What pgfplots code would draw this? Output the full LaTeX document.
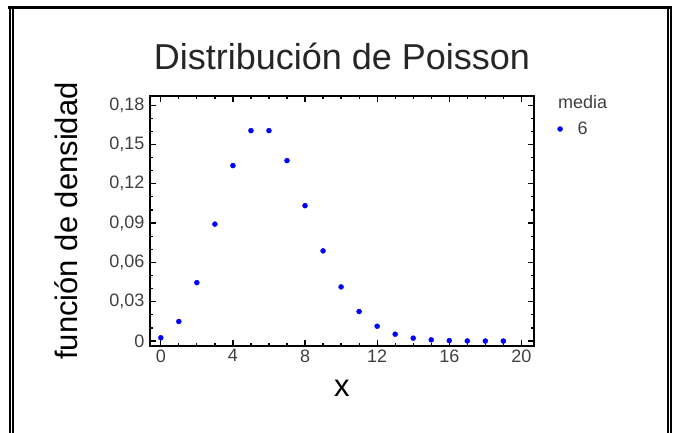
\documentclass[border=0pt]{standalone}
\usepackage{pgfplots}
\pgfplotsset{compat=1.18}
\usepackage{fontspec}
\setmainfont{Liberation Sans}
\definecolor{tickgray}{RGB}{64,64,64}
\begin{document}
\begin{tikzpicture}[x=1pt,y=1pt]
% el eje queda con su esquina en (0,0); el marco se desplaza
\begin{scope}[shift={(-150,-86)}]
\useasboundingbox (0,0) rectangle (673,432);
\clip (0,0) rectangle (673,432);
\draw[line width=3pt] (8,424.5) -- (671,424.5);
\draw[line width=2pt] (10,-5) -- (10,426);
\draw[line width=2pt] (13,-5) -- (13,423);
\draw[line width=2pt] (668,-5) -- (668,423);
\draw[line width=2pt] (671,-5) -- (671,426);
\node[anchor=base west, font=\fontsize{18}{18}\selectfont, text=tickgray, inner sep=0pt] at (558,323) {media};
\end{scope}
\begin{axis}[
  scale only axis, width=384pt, height=250pt,
  xmin=-0.6, xmax=20.7, ymin=-0.0038, ymax=0.187,
  axis line style={line width=1.6pt},
  xtick={0,4,...,20}, minor x tick num=3,
  ytick={0,0.03,...,0.18}, minor y tick num=2,
  yticklabels={0,{0,03},{0,06},{0,09},{0,12},{0,15},{0,18}},
  tick align=inside, major tick length=6pt, minor tick length=3pt,
  every tick/.style={black, line width=1.2pt},
  tick label style={font=\fontsize{18}{18}\selectfont, text=tickgray},
  yticklabel style={xshift=-2pt},
  /pgf/number format/assume math mode=true,
  title={Distribución de Poisson},
  title style={font=\fontsize{36}{36}\selectfont, text=black!85,
    at={(axis description cs:0.5,1.136)}, anchor=center},
  xlabel={x}, ylabel={función de densidad},
  label style={font=\fontsize{31}{31}\selectfont},
  xlabel style={at={(axis description cs:0.5,-0.168)}, anchor=center},
  ylabel style={at={(axis description cs:-0.219,0.5)}, anchor=center},
  legend style={at={(axis description cs:1.061,0.868)}, anchor=west,
    draw=none, fill=none, inner sep=0pt,
    font=\fontsize{18}{18}\selectfont, text=tickgray,
    /tikz/every odd column/.append style={column sep=13pt}},
  legend cell align=left,
  clip=false]
\addplot[only marks, mark=*, mark size=2.5pt, blue, draw=none] coordinates {
(0,0.0025) (1,0.0149) (2,0.0446) (3,0.0892) (4,0.1339) (5,0.1606)
(6,0.1606) (7,0.1377) (8,0.1033) (9,0.0688) (10,0.0413) (11,0.0225)
(12,0.0113) (13,0.0052) (14,0.0022) (15,0.0009) (16,0.0003) (17,0.0001)
(18,0.0000) (19,0.0000)};
\addlegendentry{6}
\end{axis}
\end{tikzpicture}
\end{document}
